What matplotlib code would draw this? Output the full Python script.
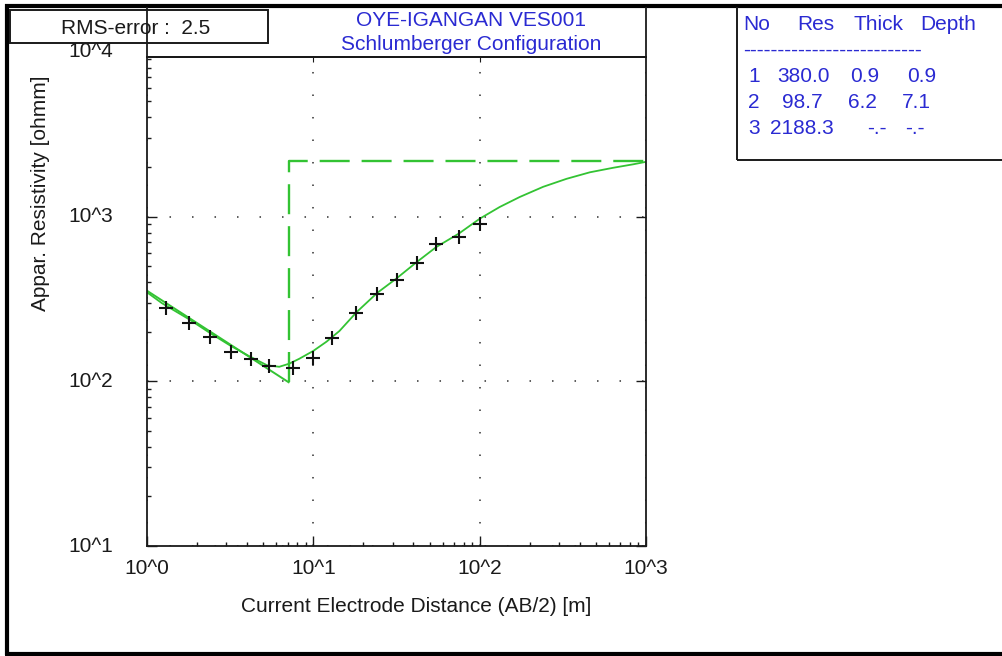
import matplotlib
matplotlib.use('Agg')
import matplotlib.pyplot as plt
from matplotlib.lines import Line2D
from matplotlib.patches import Rectangle
from matplotlib.ticker import NullFormatter, NullLocator
from matplotlib import transforms

# field data (AB/2 in m, apparent resistivity in ohm-m)
ab2 = [1.3, 1.8, 2.4, 3.2, 4.2, 5.4, 7.5, 10, 13, 18, 24, 32, 42, 55, 75, 100]
rho_obs = [280, 226, 186, 151, 137, 123, 121, 139, 182, 261, 339, 414, 526, 685, 752, 907]

# calculated curve
calc_x = [1.0, 1.23, 1.79, 2.40, 3.16, 4.12, 5.28, 6.24, 7.17, 8.23, 10.0, 12.0, 14.35,
          18.2, 24.2, 31.5, 41.9, 54.9, 75.0, 100.4, 132, 174, 241, 333, 460, 635, 839, 1000]
calc_y = [347, 298, 238, 196, 165, 142, 125, 122.5, 128, 137, 153, 174, 202,
          263, 344, 420, 530, 654, 789, 973, 1144, 1315, 1517, 1696, 1858, 1979, 2078, 2151]

# layered model
layer_no = [1, 2, 3]
layer_res = [380.0, 98.7, 2188.3]
layer_thick = [0.9, 6.2]
layer_depth = [0.9, 7.1]

x_ticks = [1, 10, 100, 1000]
x_tick_labels = ['10^0', '10^1', '10^2', '10^3']
y_ticks = [10, 100, 1000, 10000]
y_tick_labels = ['10^1', '10^2', '10^3', '10^4']

title_lines = ['OYE-IGANGAN VES001', 'Schlumberger Configuration']
rms_text = 'RMS-error :  2.5'

plt.rcParams['font.family'] = ['Liberation Sans', 'DejaVu Sans']
plt.rcParams['lines.scale_dashes'] = False

W, H = 1003, 656
fig = plt.figure(figsize=(W / 100, H / 100), dpi=100)
fig.patch.set_facecolor('white')


def fx(px):
    return px / W


def fy(py):
    return 1 - py / H


GREEN = '#33c333'
BLUE = '#2a2ad2'
INK = '#1a1a1a'
FS = 15

ax = fig.add_axes([fx(147), fy(546), (646 - 147) / W, (546 - 57) / H])
ax.set_xscale('log')
ax.set_yscale('log')
ax.set_xlim(1, 1000)
ax.set_ylim(10, 10 ** (1 + (546 - 57) / 164.7))
ax.patch.set_alpha(0)

ax.grid(True, which='major', color='#303030', linestyle=(0, (1.1, 15.1)), linewidth=1.1)

# model: diagonal joint drawn solid, the rest dashed
model_x = [layer_depth[0], layer_depth[1], layer_depth[1], 1000]
model_y = [layer_res[0], layer_res[1], layer_res[2], layer_res[2]]
ax.plot(model_x[:2], model_y[:2], color=GREEN, lw=1.4)
ax.plot(model_x[1:], model_y[1:], color=GREEN, lw=1.7, linestyle=(0, (21.6, 8.6)))
ax.plot(calc_x, calc_y, color=GREEN, lw=1.3)
ax.plot(ab2, rho_obs, linestyle='none', marker='+', ms=10, mew=1.5, color='#111111')

for s in ax.spines.values():
    s.set_linewidth(1.3)
    s.set_color(INK)

ax.set_xticks(x_ticks, x_tick_labels)
ax.xaxis.set_minor_formatter(NullFormatter())
ax.yaxis.set_minor_formatter(NullFormatter())
ax.tick_params(which='both', direction='in', color=INK, width=1.0)
ax.tick_params(which='major', length=7, right=True, top=False)
ax.tick_params(which='minor', length=3, right=False, top=False)
ax.tick_params(axis='y', which='both', labelleft=False)
ax.tick_params(axis='x', which='major', labelsize=FS, pad=9.5, labelcolor=INK)

secx = ax.secondary_xaxis('top')
secx.set_xticks([10, 100])
secx.xaxis.set_minor_locator(NullLocator())
secx.tick_params(direction='in', length=3.5, labeltop=False, color=INK)
secx.spines['top'].set_linewidth(1.3)

ytr = transforms.blended_transform_factory(fig.transFigure, ax.transData)
for v, lab in zip(y_ticks, y_tick_labels):
    ax.text(fx(113), v, lab, transform=ytr, ha='right', va='center',
            fontsize=FS, color=INK, clip_on=False)

fig.text(fx(416), fy(607), 'Current Electrode Distance (AB/2) [m]',
         ha='center', va='center', fontsize=FS, color=INK)
fig.text(fx(41), fy(193), 'Appar. Resistivity [ohmm]', rotation=90,
         ha='center', va='center', fontsize=FS, color=INK)

fig.text(fx(471), fy(20), title_lines[0], ha='center', va='center', fontsize=FS, color=BLUE)
fig.text(fx(471), fy(45), title_lines[1], ha='center', va='center', fontsize=FS, color=BLUE)


def fline(xs, ys, lw, color=INK):
    fig.add_artist(Line2D([fx(p) for p in xs], [fy(p) for p in ys],
                          transform=fig.transFigure, lw=lw, color=color,
                          solid_capstyle='butt'))


# outer frame
fline([5, 1003], [5.5, 5.5], 3.0, 'black')
fline([7, 7], [4, 655], 3.0, 'black')
fline([5, 1003], [653.5, 653.5], 3.0, 'black')
# axis sides running up to the frame
fline([147, 147], [7, 57], 1.3)
fline([646, 646], [7, 57], 1.3)

# RMS box
fig.add_artist(Rectangle((fx(10), fy(43)), (268 - 10) / W, (43 - 10) / H,
                         transform=fig.transFigure, fill=False, lw=1.4, edgecolor=INK))
fig.text(fx(136), fy(29), rms_text, ha='center', va='center', fontsize=FS, color=INK)

# model table
fline([737, 737], [7, 160], 1.4)
fline([737, 1003], [160, 160], 1.4)
header = ['No', 'Res', 'Thick', 'Depth']
header_x = [743, 797, 853, 920]
for h, hx in zip(header, header_x):
    fig.text(fx(hx), fy(25), h, ha='left', va='center', fontsize=FS, color=BLUE)
fig.text(fx(743), fy(56), '-' * 26, ha='left', va='baseline', fontsize=FS, color=BLUE)

row_y = [77, 103, 128]
cell_x = [[748, 777, 850, 907],
          [748, 782, 848, 902],
          [748, 770, 867, 905]]
for i, no in enumerate(layer_no):
    cells = [str(no), f'{layer_res[i]:.1f}']
    if i < len(layer_thick):
        cells += [f'{layer_thick[i]:.1f}', f'{layer_depth[i]:.1f}']
    else:
        cells += ['-.-', '-.-']
    for txt, cx in zip(cells, cell_x[i]):
        fig.text(fx(cx), fy(row_y[i]), txt, ha='left', va='center', fontsize=FS, color=BLUE)

fig.savefig('out.png', dpi=100)
